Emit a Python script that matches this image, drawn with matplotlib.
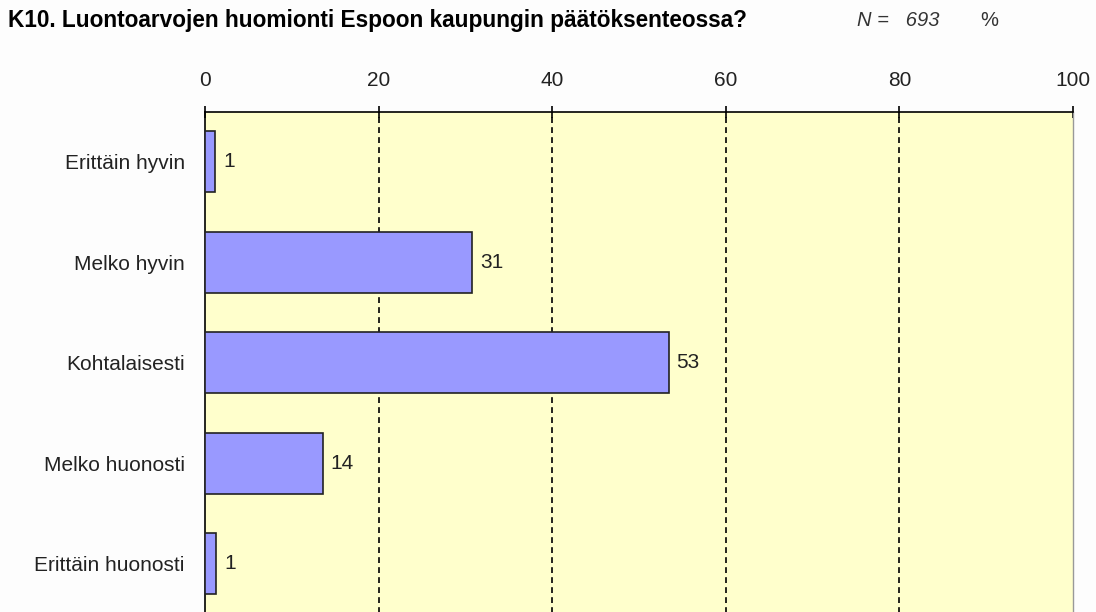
import matplotlib
matplotlib.use("Agg")
import matplotlib.pyplot as plt

categories = ["Erittäin hyvin", "Melko hyvin", "Kohtalaisesti", "Melko huonosti", "Erittäin huonosti"]
values = [1.2, 30.8, 53.4, 13.6, 1.3]
labels = ["1", "31", "53", "14", "1"]
xticks = [0, 20, 40, 60, 80, 100]
title = "K10. Luontoarvojen huomionti Espoon kaupungin päätöksenteossa?"
n_text = "N =   693"
unit_text = "%"

plt.rcParams['font.family'] = ['Liberation Sans', 'DejaVu Sans']

W, H = 1096, 612
fig = plt.figure(figsize=(W / 100, H / 100), dpi=100, facecolor="#FDFDFD")
left, right, top, bottom = 205, 1073, 111.5, 614
ax = fig.add_axes([left / W, 1 - bottom / H, (right - left) / W, (bottom - top) / H])
ax.set_facecolor("#FFFFCC")

ypos = list(range(len(categories)))
ax.barh(ypos, values, height=0.61, color="#9999FF", edgecolor="#222222", linewidth=1.2, zorder=3)
for y, v, lab in zip(ypos, values, labels):
    ax.text(v + 0.9, y, lab, va="center", ha="left", fontsize=15, color="#222222", zorder=4)

ax.set_xlim(0, 100)
ax.set_ylim(len(categories) - 0.5, -0.5)
ax.set_yticks(ypos)
ax.set_yticklabels(categories, fontsize=15, color="#222222")
ax.tick_params(axis="y", length=0, pad=14.5)
ax.xaxis.tick_top()
ax.set_xticks(xticks)
ax.set_xticklabels([str(t) for t in xticks], fontsize=15, color="#222222")
ax.tick_params(axis="x", direction="inout", length=9, width=1.2, pad=11, colors="black", labelcolor="#222222")

for t in xticks[1:-1]:
    ax.axvline(t, color="black", linestyle=(0, (3.5, 2.5)), linewidth=1.2, zorder=2)

ax.spines["top"].set_color("black")
ax.spines["top"].set_linewidth(1.2)
ax.spines["left"].set_color("black")
ax.spines["left"].set_linewidth(1.2)
ax.spines["right"].set_color("#999999")
ax.spines["right"].set_linewidth(1.0)
ax.spines["bottom"].set_visible(False)

fig.text(8 / W, 1 - 20 / H, title, fontsize=16.3, fontweight="bold", va="center", ha="left", color="black")
fig.text(857 / W, 1 - 20 / H, n_text, fontsize=14.5, fontstyle="italic", va="center", ha="left", color="#333333")
fig.text(980 / W, 1 - 20 / H, unit_text, fontsize=14.5, va="center", ha="left", color="#333333")

fig.savefig("out.png", dpi=100, facecolor=fig.get_facecolor())
